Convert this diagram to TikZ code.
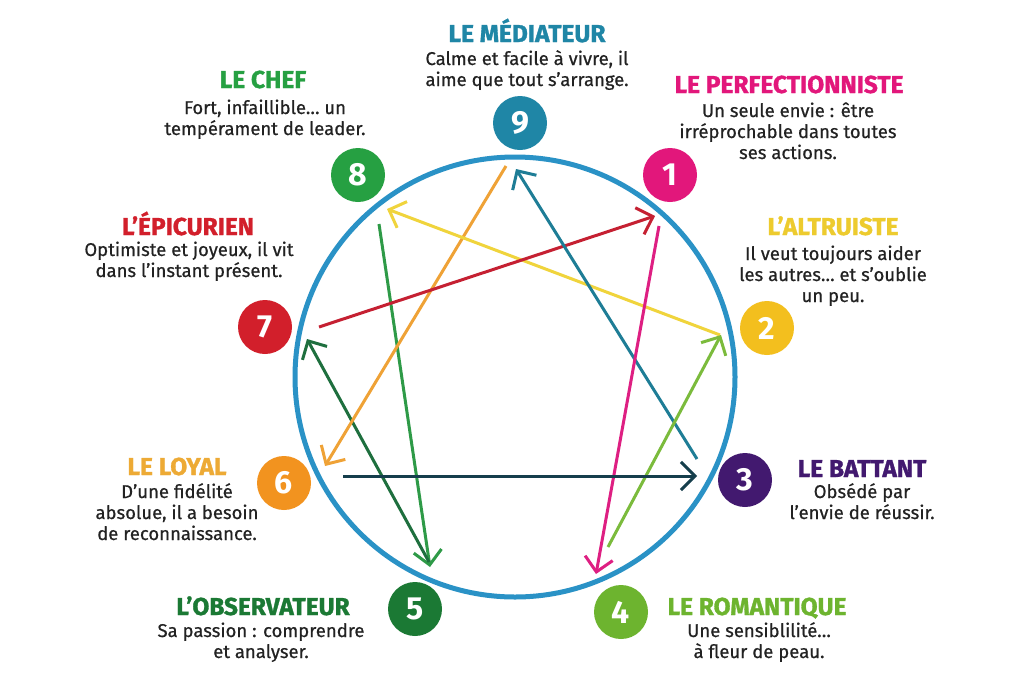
\documentclass[tikz,border=0pt]{standalone}
\usepackage{fontspec}
\setmainfont{Fira Sans}
\newfontfamily\titlef{Fira Sans}[FakeBold=1.2]
\newfontfamily\bodyf{Fira Sans}[FakeBold=0.6]
\newfontfamily\numf{Fira Sans}
\usetikzlibrary{arrows.meta}
\definecolor{cnine}{HTML}{1F86A6}
\definecolor{cone}{HTML}{E2177B}
\definecolor{ctwo}{HTML}{F3BF1E}
\definecolor{cthree}{HTML}{42196F}
\definecolor{cfour}{HTML}{6DB42F}
\definecolor{cfive}{HTML}{1B7934}
\definecolor{csix}{HTML}{F2931F}
\definecolor{cseven}{HTML}{D21F2B}
\definecolor{ceight}{HTML}{26A042}
\definecolor{ring}{HTML}{2A92C6}
\definecolor{tyellow}{HTML}{EDCB2E}
\definecolor{torange}{HTML}{EDAA35}
\definecolor{txt}{HTML}{222222}
\definecolor{ared}{HTML}{C52032}
\definecolor{ayellow}{HTML}{F0D43C}
\definecolor{aorange}{HTML}{EFA236}
\definecolor{ateal}{HTML}{1E7D96}
\definecolor{amagenta}{HTML}{DE1F82}
\definecolor{alime}{HTML}{7BBB3C}
\definecolor{anavy}{HTML}{153E4C}
\definecolor{agreen}{HTML}{2E9A47}
\definecolor{adkgreen}{HTML}{1E6F3E}
\tikzset{
  num/.style={circle, fill=#1, minimum size=54pt, inner sep=0pt, text=white,
    font=\numf\bfseries\fontsize{32}{32}\selectfont},
  ttl/.style={anchor=base, text=#1, font=\titlef\bfseries\fontsize{24.5}{24.5}\selectfont},
  desc/.style={anchor=base, align=center, text=txt, font=\bodyf\fontsize{18.5}{21}\selectfont},
  arr/.style={draw=#1, line width=3pt, -{Straight Barb[length=14pt,width=28pt]}},
}
\begin{document}
\begin{tikzpicture}[x=1pt,y=-1pt]
\useasboundingbox (0,0) rectangle (1024,678);
\fill[white] (0,0) rectangle (1024,678);
% ring
\node[circle, draw=ring, line width=5pt, minimum size=440pt, inner sep=0pt] (ringc) at (515,377) {};
% number circles
\node[num=cnine]  (n9) at (520,123) {9};
\node[num=cone]   (n1) at (670,175) {1};
\node[num=ctwo]   (n2) at (767,328) {2};
\node[num=cthree] (n3) at (745,480) {3};
\node[num=cfour]  (n4) at (621,612) {4};
\node[num=cfive]  (n5) at (415,609) {5};
\node[num=csix]   (n6) at (284,483) {6};
\node[num=cseven] (n7) at (265,327) {7};
\node[num=ceight] (n8) at (358,175) {8};
% labels (desc nodes are placed at the baseline of their last line)
\node[ttl=cnine] (t9) at (527,42) {LE MÉDIATEUR};
\node[desc] (d9) at (527,86) {Calme et facile à vivre, il\\aime que tout s’arrange.};
\node[ttl=cone] (t1) at (789,93) {LE PERFECTIONNISTE};
\node[desc] (d1) at (788,159) {Un seule envie : être\\irréprochable dans toutes\\ses actions.};
\node[ttl=tyellow] (t2) at (833,235) {L’ALTRUISTE};
\node[desc] (d2) at (833,302) {Il veut toujours aider\\les autres… et s’oublie\\un peu.};
\node[ttl=cthree] (t3) at (862,477) {LE BATTANT};
\node[desc] (d3) at (862,519) {Obsédé par\\l’envie de réussir.};
\node[ttl=cfour] (t4) at (757,615) {LE ROMANTIQUE};
\node[desc] (d4) at (759,658) {Une sensiblilité…\\à fleur de peau.};
\node[ttl=cfive] (t5) at (263,615) {L’OBSERVATEUR};
\node[desc] (d5) at (261,658) {Sa passion : comprendre\\et analyser.};
\node[ttl=torange] (t6) at (177,475) {LE LOYAL};
\node[desc] (d6) at (177,540) {D’une fidélité\\absolue, il a besoin\\de reconnaissance.};
\node[ttl=cseven] (t7) at (188,235) {L’ÉPICURIEN};
\node[desc] (d7) at (189,277) {Optimiste et joyeux, il vit\\dans l’instant présent.};
\node[ttl=ceight] (t8) at (263,88) {LE CHEF};
\node[desc] (d8) at (265,135) {Fort, infaillible… un\\tempérament de leader.};
% arrow end points
\coordinate (r7s) at (319,327);  \coordinate (r1e) at (655,216);
\coordinate (y2s) at (720,335);  \coordinate (y8e) at (387,209);
\coordinate (o9s) at (506,166);  \coordinate (o6e) at (325,466);
\coordinate (t3s) at (697,459);  \coordinate (t9e) at (516,169);
\coordinate (m1s) at (659,226);  \coordinate (m4e) at (596,574);
\coordinate (l4s) at (608,547);  \coordinate (l2e) at (721,335);
\coordinate (v6s) at (343,476);  \coordinate (v3e) at (697,476);
\coordinate (g8s) at (379,224);  \coordinate (g5e) at (430,567);
\coordinate (k5s) at (429,562);  \coordinate (k7e) at (307,339);
% arrows
\draw[arr=agreen] (g8s) -- (g5e);
\draw[arr=adkgreen] (k5s) -- (k7e);
\draw[arr=aorange] (o9s) -- (o6e);
\draw[arr=ayellow] (y2s) -- (y8e);
\draw[arr=ared] (r7s) -- (r1e);
\draw[arr=ateal] (t3s) -- (t9e);
\draw[arr=amagenta] (m1s) -- (m4e);
\draw[arr=alime] (l4s) -- (l2e);
\draw[arr=anavy] (v6s) -- (v3e);
\end{tikzpicture}
\end{document}
